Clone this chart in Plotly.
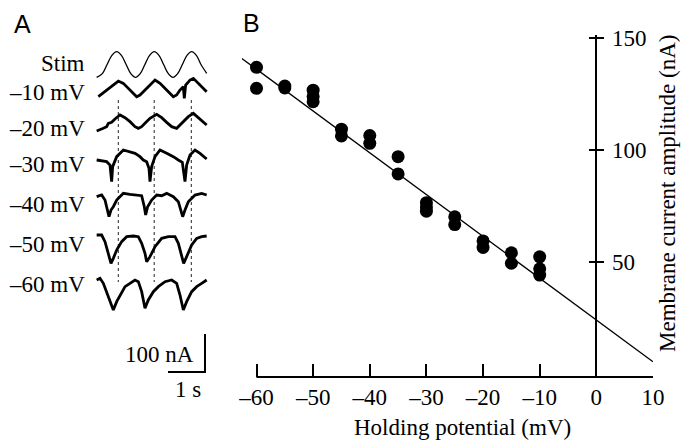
import plotly.graph_objects as go

W, H = 692, 440

# ---------------- Panel B data ----------------
holding_mv = [-60, -60, -55, -55, -50, -50, -50, -45, -45, -40, -40, -35, -35,
              -30, -30, -30, -25, -25, -20, -20, -15, -15, -10, -10, -10]
amplitude_na = [137.0, 127.6, 128.6, 127.8, 126.8, 123.9, 121.6, 109.3, 106.3, 106.5, 103.0, 97.0, 89.3,
                76.4, 74.5, 72.6, 70.1, 66.6, 59.3, 56.4, 54.0, 49.3, 52.2, 46.8, 44.0]
fit_mv = [-62.6, 10.0]
fit_na = [141.0, 5.2]
x_ticks = [-60, -50, -40, -30, -20, -10, 0, 10]
x_tick_labels = ["\u201360", "\u201350", "\u201340", "\u201330", "\u201320", "\u201310", "0", "10"]
y_ticks = [50, 100, 150]
x_title = "Holding potential (mV)"
y_title = "Membrane current amplitude (nA)"

# ---------------- Panel A data ----------------
stim_label = "Stim"
stim_t = [-0.01, 0.144, 0.273, 0.403, 0.532, 0.66, 0.787, 0.914, 1.041, 1.168, 1.295, 1.422,
          1.549, 1.675, 1.80, 1.927, 2.054, 2.18, 2.307, 2.433, 2.559, 2.685, 2.81, 2.965]
stim_level = [-1, -0.71, 0, 0.71, 1, 0.71, 0, -0.71, -1, -0.71, 0, 0.71,
              1, 0.71, 0, -0.71, -1, -0.71, 0, 0.71, 1, 0.71, 0, -0.69]

trace_labels = ["\u201310 mV", "\u201320 mV", "\u201330 mV", "\u201340 mV", "\u201350 mV", "\u201360 mV"]

t_m10 = [0.036, 0.216, 0.396, 0.577, 0.712, 0.847, 0.982, 1.072, 1.162, 1.252, 1.387, 1.568, 1.703,
         1.838, 1.973, 2.063, 2.153, 2.243, 2.333, 2.360, 2.396, 2.514, 2.604, 2.739, 2.874, 2.964]
i_m10 = [0, 13.2, 26.3, 41.2, 35.1, 21.9, 6.1, 0, 4.4, 13.2, 26.3, 43.9, 35.1,
         21.9, 8.8, 0, 4.4, 17.5, 26.3, -4.4, 30.7, 43.9, 48.2, 35.1, 21.9, 13.2]

t_m20 = [-0.009, 0.081, 0.171, 0.261, 0.306, 0.396, 0.486, 0.622, 0.757, 0.892, 1.027, 1.117, 1.207,
         1.297, 1.432, 1.613, 1.748, 1.883, 2.018, 2.153, 2.243, 2.333, 2.468, 2.604, 2.739, 2.874, 2.964]
i_m20 = [0, 2.6, 7.0, 11.4, 20.2, 22.8, 31.6, 42.1, 35.1, 24.6, 11.4, 7.0, 11.4,
         20.2, 33.3, 43.9, 35.1, 22.8, 11.4, 7.0, 15.8, 26.3, 37.7, 46.5, 35.1, 22.8, 15.8]

t_m30 = [-0.009, 0.126, 0.261, 0.351, 0.396, 0.423, 0.532, 0.712, 0.847, 1.027, 1.162, 1.252, 1.342,
         1.405, 1.432, 1.477, 1.568, 1.703, 1.883, 2.063, 2.198, 2.306, 2.378, 2.423, 2.514, 2.649,
         2.784, 2.919, 2.964]
i_m30 = [0, -2.6, -4.4, -13.2, -57.0, -17.5, 8.8, 26.3, 21.9, 17.5, 8.8, 0, -4.4,
         -21.9, -57.0, -17.5, 8.8, 26.3, 17.5, 8.8, 0, -6.1, -57.0, -13.2, 13.2, 26.3,
         17.5, 6.1, 2.6]

t_m40 = [-0.009, 0.126, 0.216, 0.288, 0.324, 0.378, 0.441, 0.532, 0.712, 0.892, 1.072, 1.207, 1.279,
         1.315, 1.369, 1.477, 1.613, 1.748, 1.883, 2.063, 2.198, 2.270, 2.315, 2.378, 2.468, 2.649,
         2.829, 2.964]
i_m40 = [0, 4.4, -8.8, -35.1, -52.6, -35.1, -26.3, -8.8, 8.8, 6.1, 4.4, 2.6, -26.3,
         -48.2, -26.3, -8.8, 4.4, 2.6, 8.8, 0, -13.2, -39.5, -52.6, -35.1, -13.2, 4.4,
         8.8, 4.4]

t_m50 = [-0.009, 0.126, 0.216, 0.306, 0.378, 0.441, 0.532, 0.667, 0.802, 0.982, 1.117, 1.207, 1.297,
         1.342, 1.432, 1.568, 1.748, 1.928, 2.108, 2.198, 2.288, 2.342, 2.423, 2.559, 2.694, 2.829, 2.964]
i_m50 = [0, 0, -17.5, -48.2, -74.6, -61.4, -39.5, -17.5, -4.4, -2.6, -4.4, -21.9, -48.2,
         -70.2, -57.0, -30.7, -8.8, -4.4, -4.4, -21.9, -52.6, -74.6, -57.0, -26.3, -8.8, -4.4, -2.6]

t_m60 = [-0.009, 0.081, 0.171, 0.261, 0.351, 0.441, 0.532, 0.622, 0.757, 0.892, 1.027, 1.117, 1.207,
         1.297, 1.387, 1.523, 1.658, 1.838, 2.018, 2.153, 2.243, 2.333, 2.423, 2.559, 2.694, 2.829, 2.964]
i_m60 = [0, 4.4, -8.8, -30.7, -57.0, -78.9, -57.0, -39.5, -17.5, -8.8, 0, -4.4, -30.7,
         -74.6, -52.6, -30.7, -17.5, -4.4, 0, -8.8, -39.5, -78.9, -57.0, -30.7, -17.5, -8.8, 0]

peak_t = [0.576, 1.546, 2.549]
scalebar_s = 1.0
scalebar_na = 100.0
scalebar_labels = ["100 nA", "1 s"]
panel_letters = ["A", "B"]

# ---------------- layout constants (pixels) ----------------
SERIF = "Liberation Serif"
SANS = "Liberation Sans"
FS = 23

def xp(px):
    return px / W

def yp(py):
    return 1 - py / H

# panel A geometry
A_T0_PX = 97.0
PX_PER_S = 37.0
PX_PER_NA = 0.38
A_XDOM = (90.0, 215.0)
A_YDOM = (40.0, 400.0)
A_BOTTOM = A_YDOM[1]

def a_level(py):
    return (A_BOTTOM - py) / PX_PER_NA

stim_center_px = 64.5
stim_amp_px = 12.8
trace_base_px = [96.7, 131.0, 160.0, 196.7, 235.0, 280.0]
label_px_y = [63.5, 92.5, 128.0, 164.0, 204.0, 244.5, 284.5]
label_right_px = 87.0
dotted_px = (100.0, 282.0)
scalebar_corner_px = (205.0, 372.0)

# panel B geometry
B_XR = (fit_mv[0], 10.0)
B_X_M60_PX = 256.5
B_PX_PER_MV = 5.664
B_XDOM = (B_X_M60_PX + (B_XR[0] + 60) * B_PX_PER_MV, B_X_M60_PX + (B_XR[1] + 60) * B_PX_PER_MV)
B_YR = (-1.6, 151.5)
B_Y0_PX = 373.4
B_PX_PER_NA = 2.234
B_YDOM = (B_Y0_PX - B_YR[1] * B_PX_PER_NA, B_Y0_PX - B_YR[0] * B_PX_PER_NA)
yaxis_pos = xp(B_XDOM[0] + (0 - B_XR[0]) * (B_XDOM[1] - B_XDOM[0]) / (B_XR[1] - B_XR[0]))

fig = go.Figure()

# ---------- Panel A ----------
dx, dy = [], []
for t in peak_t:
    dx += [t, t, None]
    dy += [a_level(dotted_px[0]), a_level(dotted_px[1]), None]
fig.add_trace(go.Scatter(x=dx, y=dy, mode="lines", xaxis="x2", yaxis="y2",
                         line=dict(color="#222", width=1, dash="dot"), hoverinfo="skip", showlegend=False))

fig.add_trace(go.Scatter(x=stim_t, y=[a_level(stim_center_px) + v * stim_amp_px / PX_PER_NA for v in stim_level],
                         mode="lines", line=dict(color="black", width=1.3, shape="spline"),
                         xaxis="x2", yaxis="y2", showlegend=False))

all_t = [t_m10, t_m20, t_m30, t_m40, t_m50, t_m60]
all_i = [i_m10, i_m20, i_m30, i_m40, i_m50, i_m60]
for tt, ii, base in zip(all_t, all_i, trace_base_px):
    fig.add_trace(go.Scatter(x=tt, y=[a_level(base) + v for v in ii], mode="lines",
                             line=dict(color="black", width=2.8),
                             xaxis="x2", yaxis="y2", showlegend=False))

ct = (scalebar_corner_px[0] - A_T0_PX) / PX_PER_S
ci = a_level(scalebar_corner_px[1])
fig.add_trace(go.Scatter(x=[ct - scalebar_s, ct, ct], y=[ci, ci, ci + scalebar_na], mode="lines",
                         line=dict(color="black", width=2), xaxis="x2", yaxis="y2", showlegend=False))

# ---------- Panel B ----------
fig.add_trace(go.Scatter(x=fit_mv, y=fit_na, mode="lines", line=dict(color="black", width=1.3),
                         showlegend=False, cliponaxis=False))
fig.add_trace(go.Scatter(x=holding_mv, y=amplitude_na, mode="markers",
                         marker=dict(color="black", size=13), showlegend=False, cliponaxis=False))
# invisible companion to carry the left half of the crossing y ticks
fig.add_trace(go.Scatter(x=holding_mv, y=amplitude_na, mode="markers", yaxis="y3",
                         marker=dict(opacity=0), hoverinfo="skip", showlegend=False))

axis_common = dict(showgrid=False, zeroline=False, color="black", automargin=False,
                   tickfont=dict(family=SERIF, size=FS, color="black"))

fig.update_layout(
    width=W, height=H, margin=dict(l=0, r=0, t=0, b=0, pad=0, autoexpand=False),
    paper_bgcolor="white", plot_bgcolor="white",
    font=dict(family=SERIF, size=FS, color="black"),
    xaxis=dict(domain=[xp(B_XDOM[0]), xp(B_XDOM[1])], range=list(B_XR), anchor="y",
               tickvals=x_ticks, ticktext=x_tick_labels, ticks="inside", ticklen=13, tickwidth=2,
               tickcolor="black", showline=False, ticklabelstandoff=4, **axis_common),
    yaxis=dict(domain=[yp(B_YDOM[1]), yp(B_YDOM[0])], range=list(B_YR), anchor="free",
               position=yaxis_pos, side="right", tickvals=y_ticks, ticks="outside", ticklen=7,
               tickwidth=2, tickcolor="black", showline=True, linewidth=2, linecolor="black",
               ticklabelstandoff=3, **axis_common),
    yaxis3=dict(domain=[yp(B_YDOM[1]), yp(B_YDOM[0])], range=list(B_YR), anchor="free",
                overlaying="y", position=yaxis_pos, side="right", tickvals=y_ticks, ticks="inside",
                ticklen=7, tickwidth=2, tickcolor="black", showticklabels=False, showline=False,
                showgrid=False, zeroline=False, automargin=False),
    xaxis2=dict(domain=[xp(A_XDOM[0]), xp(A_XDOM[1])],
                range=[(A_XDOM[0] - A_T0_PX) / PX_PER_S, (A_XDOM[1] - A_T0_PX) / PX_PER_S],
                visible=False, anchor="y2", automargin=False),
    yaxis2=dict(domain=[yp(A_YDOM[1]), yp(A_YDOM[0])], range=[0, (A_YDOM[1] - A_YDOM[0]) / PX_PER_NA],
                visible=False, anchor="x2", automargin=False),
    shapes=[dict(type="line", xref="x", yref="paper", x0=x_ticks[0], x1=x_ticks[-1],
                 y0=yp(B_YDOM[1]), y1=yp(B_YDOM[1]), line=dict(color="black", width=2))],
)

ann = []
for txt, py in zip([stim_label] + trace_labels, label_px_y):
    ann.append(dict(text=txt, x=xp(label_right_px), y=yp(py), xanchor="right", yanchor="middle"))
ann.append(dict(text=scalebar_labels[0], x=xp(196), y=yp(354), xanchor="right", yanchor="middle"))
ann.append(dict(text=scalebar_labels[1], x=xp(188), y=yp(389), xanchor="center", yanchor="middle"))
ann.append(dict(text=x_title, x=xp(462), y=yp(427), xanchor="center", yanchor="middle"))
ann.append(dict(text=y_title, x=xp(667), y=yp(194), xanchor="center", yanchor="middle", textangle=-90))
ann.append(dict(text=panel_letters[0], x=xp(23), y=yp(24), xanchor="center", yanchor="middle",
                font=dict(family=SANS, size=25, color="black")))
ann.append(dict(text=panel_letters[1], x=xp(251), y=yp(22.5), xanchor="center", yanchor="middle",
                font=dict(family=SANS, size=25, color="black")))
for a in ann:
    a.update(xref="paper", yref="paper", showarrow=False)
    a.setdefault("font", dict(family=SERIF, size=FS, color="black"))
fig.update_layout(annotations=ann)

fig.write_html("out.html", config={"displayModeBar": False},
               post_script="document.body.style.margin='0';")
